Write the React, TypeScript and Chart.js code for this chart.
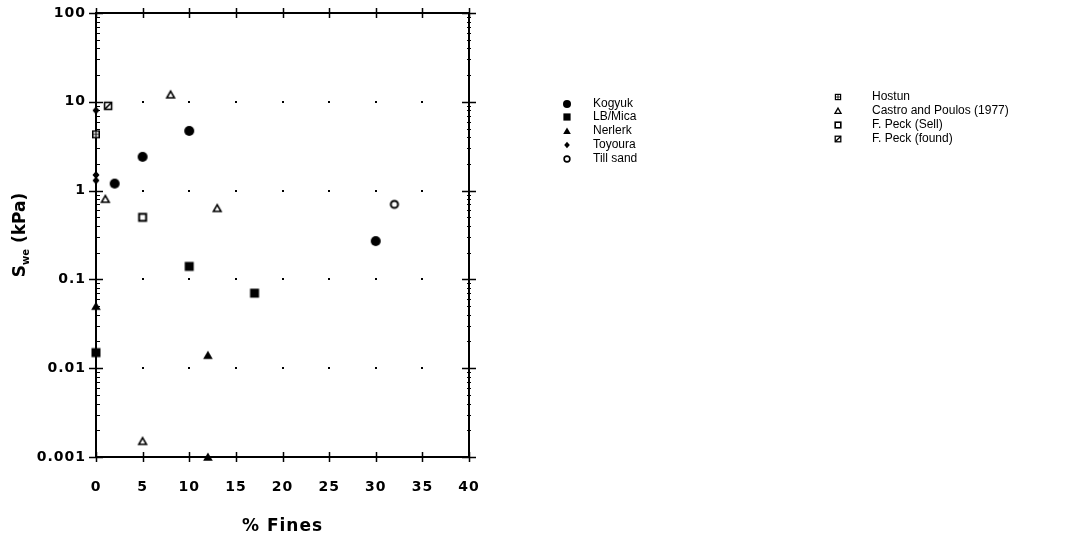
import { useEffect, useRef } from "react";
import { Chart, registerables } from "chart.js";

Chart.register(...registerables);

// ---------- data ----------
const xTickValues = [0, 5, 10, 15, 20, 25, 30, 35, 40];
const yTickValues = [0.001, 0.01, 0.1, 1, 10, 100];
const yTickLabels = ["0.001", "0.01", "0.1", "1", "10", "100"];

const kogyuk = [
  { x: 2, y: 1.2 },
  { x: 5, y: 2.4 },
  { x: 10, y: 4.7 },
  { x: 30, y: 0.27 },
];
const lbMica = [
  { x: 0, y: 0.015 },
  { x: 10, y: 0.14 },
  { x: 17, y: 0.07 },
];
const nerlerk = [
  { x: 0, y: 0.05 },
  { x: 12, y: 0.014 },
  { x: 12, y: 0.001 },
];
const toyoura = [
  { x: 0, y: 8 },
  { x: 0, y: 1.5 },
  { x: 0, y: 1.3 },
];
const tillSand = [{ x: 32, y: 0.7 }];
const hostun = [{ x: 0, y: 4.3 }];
const castroPoulos = [
  { x: 8, y: 12 },
  { x: 1, y: 0.8 },
  { x: 13, y: 0.63 },
  { x: 5, y: 0.0015 },
];
const peckSell = [{ x: 5, y: 0.5 }];
const peckFound = [{ x: 1.3, y: 9 }];

const seriesLabels = [
  "Kogyuk",
  "LB/Mica",
  "Nerlerk",
  "Toyoura",
  "Till sand",
  "Hostun",
  "Castro and Poulos (1977)",
  "F. Peck (Sell)",
  "F. Peck (found)",
];
const seriesKinds = [
  "circle",
  "square",
  "triangle",
  "diamond",
  "openCircle",
  "hostun",
  "openTriangle",
  "openSquare",
  "peckFound",
];
const seriesData = [kogyuk, lbMica, nerlerk, toyoura, tillSand, hostun, castroPoulos, peckSell, peckFound];

// ---------- marker drawing ----------
function makeMarker(kind: string, s = 1): HTMLCanvasElement {
  const size = 16;
  const c = document.createElement("canvas");
  c.width = size;
  c.height = size;
  const ctx = c.getContext("2d")!;
  ctx.translate(size / 2, size / 2);
  ctx.scale(s, s);
  ctx.fillStyle = "#000";
  ctx.strokeStyle = "#000";
  switch (kind) {
    case "circle":
      ctx.beginPath();
      ctx.arc(0, 0, 5, 0, Math.PI * 2);
      ctx.fill();
      break;
    case "square":
      ctx.fillRect(-4.5, -4.5, 9, 9);
      break;
    case "triangle":
      ctx.beginPath();
      ctx.moveTo(0, -4.5);
      ctx.lineTo(4.8, 3.8);
      ctx.lineTo(-4.8, 3.8);
      ctx.closePath();
      ctx.fill();
      break;
    case "diamond":
      ctx.beginPath();
      ctx.moveTo(0, -4);
      ctx.lineTo(3.5, 0);
      ctx.lineTo(0, 4);
      ctx.lineTo(-3.5, 0);
      ctx.closePath();
      ctx.fill();
      break;
    case "openCircle":
      ctx.lineWidth = 2;
      ctx.beginPath();
      ctx.arc(0, 0, 3.6, 0, Math.PI * 2);
      ctx.stroke();
      break;
    case "hostun":
      ctx.fillRect(-4, -4, 8, 8);
      ctx.fillStyle = "#fff";
      ctx.fillRect(-2.5, -2.5, 2, 2);
      ctx.fillRect(0.5, -2.5, 2, 2);
      ctx.fillRect(-2.5, 0.5, 2, 2);
      ctx.fillRect(0.5, 0.5, 2, 2);
      break;
    case "openTriangle":
      ctx.lineWidth = 1.6;
      ctx.beginPath();
      ctx.moveTo(0, -3.6);
      ctx.lineTo(3.8, 3);
      ctx.lineTo(-3.8, 3);
      ctx.closePath();
      ctx.stroke();
      break;
    case "openSquare":
      ctx.lineWidth = 2;
      ctx.strokeRect(-3.5, -3.5, 7, 7);
      break;
    case "peckFound":
      ctx.lineWidth = 1.6;
      ctx.strokeRect(-3.5, -3.5, 7, 7);
      ctx.beginPath();
      ctx.moveTo(-3.5, 3.5);
      ctx.lineTo(3.5, -3.5);
      ctx.stroke();
      break;
  }
  return c;
}

// legend layout: column x positions and row y positions
const legendCol1 = { markerX: 567, textX: 593, rows: [104, 117, 131, 145, 159] };
const legendCol2 = { markerX: 838, textX: 872, rows: [97, 111, 125, 139] };

const TICK_FONT = { family: '"DejaVu Sans", sans-serif', size: 14, weight: "bold" as const };

export default function App() {
  const ref = useRef<HTMLCanvasElement | null>(null);

  useEffect(() => {
    const canvas = ref.current;
    if (!canvas) return;

    const legendMarkers = seriesKinds.map((k) => makeMarker(k, 0.8));

    const framePlugin = {
      id: "frame",
      beforeDraw(chart: any) {
        chart.ctx.letterSpacing = "1px";
      },
      beforeDatasetsDraw(chart: any) {
        const { ctx, chartArea, scales } = chart;
        const xs = scales.x;
        const ys = scales.y;
        const { left, right, top, bottom } = chartArea;
        ctx.save();
        ctx.strokeStyle = "#000";
        ctx.fillStyle = "#000";
        // grid dots
        for (const xv of xTickValues) {
          if (xv === 0 || xv === 40) continue;
          for (const yv of yTickValues) {
            if (yv === 0.001 || yv === 100) continue;
            const px = xs.getPixelForValue(xv);
            const py = ys.getPixelForValue(yv);
            ctx.fillRect(Math.round(px) - 1, Math.round(py) - 1, 2, 2);
          }
        }
        // border box
        ctx.lineWidth = 2;
        ctx.strokeRect(left, top, right - left, bottom - top);
        // x major ticks (top and bottom)
        ctx.lineWidth = 1.5;
        ctx.beginPath();
        for (const xv of xTickValues) {
          const px = Math.round(xs.getPixelForValue(xv)) + 0.5;
          ctx.moveTo(px, bottom - 5);
          ctx.lineTo(px, bottom + 5);
          ctx.moveTo(px, top - 5);
          ctx.lineTo(px, top + 5);
        }
        // y major ticks (left and right)
        for (const yv of yTickValues) {
          const py = Math.round(ys.getPixelForValue(yv)) + 0.5;
          ctx.moveTo(left - 7, py);
          ctx.lineTo(left + 7, py);
          ctx.moveTo(right - 7, py);
          ctx.lineTo(right + 7, py);
        }
        ctx.stroke();
        // y minor ticks
        ctx.lineWidth = 1.2;
        ctx.beginPath();
        for (let d = 0; d < yTickValues.length - 1; d++) {
          for (let m = 2; m <= 9; m++) {
            const py = Math.round(ys.getPixelForValue(m * yTickValues[d])) + 0.5;
            ctx.moveTo(left - 1, py);
            ctx.lineTo(left + 4, py);
            ctx.moveTo(right - 2, py);
            ctx.lineTo(right + 2, py);
          }
        }
        ctx.stroke();
        ctx.restore();
      },
      afterDraw(chart: any) {
        const { ctx, chartArea } = chart;
        ctx.save();
        ctx.letterSpacing = "0px";
        // y axis title with subscript
        ctx.translate(21, (chartArea.top + chartArea.bottom) / 2);
        ctx.rotate(-Math.PI / 2);
        ctx.fillStyle = "#000";
        ctx.textBaseline = "middle";
        ctx.textAlign = "left";
        const big = 'bold 17px "DejaVu Sans", sans-serif';
        const small = 'bold 10px "DejaVu Sans", sans-serif';
        ctx.font = big;
        const wS = ctx.measureText("S").width;
        const wRest = ctx.measureText(" (kPa)").width;
        ctx.font = small;
        const wSub = ctx.measureText("we").width;
        const total = wS + wSub + wRest;
        let cx = -total / 2;
        ctx.font = big;
        ctx.fillText("S", cx, 0);
        cx += wS;
        ctx.font = small;
        ctx.fillText("we", cx, 5);
        cx += wSub;
        ctx.font = big;
        ctx.fillText(" (kPa)", cx, 0);
        ctx.restore();

        // legend
        ctx.save();
        ctx.letterSpacing = "0px";
        ctx.fillStyle = "#000";
        ctx.font = '12px "Liberation Sans", Arial, sans-serif';
        ctx.textBaseline = "middle";
        ctx.textAlign = "left";
        chart.data.datasets.forEach((ds: any, i: number) => {
          const col = i < 5 ? legendCol1 : legendCol2;
          const row = i < 5 ? i : i - 5;
          const y = col.rows[row];
          const mk = legendMarkers[i];
          ctx.drawImage(mk, col.markerX - mk.width / 2, y - mk.height / 2);
          ctx.fillText(ds.label, col.textX, y);
        });
        ctx.restore();
      },
    };

    const datasets = seriesData.map((data, i) => ({
      label: seriesLabels[i],
      data,
      pointStyle: makeMarker(seriesKinds[i]) as any,
      pointRadius: 5,
      showLine: false,
      clip: false as any,
    }));

    const chart = new Chart(canvas, {
      type: "scatter",
      data: { datasets },
      options: {
        animation: false,
        responsive: false,
        layout: { padding: { left: 0, right: 609, top: 13, bottom: 0 } },
        plugins: {
          legend: { display: false },
          tooltip: { enabled: false },
        },
        scales: {
          x: {
            type: "linear",
            min: 0,
            max: 40,
            afterBuildTicks: (s: any) => {
              s.ticks = xTickValues.map((v) => ({ value: v }));
            },
            afterFit: (s: any) => {
              s.height = 89;
              s.paddingLeft = 0;
              s.paddingRight = 0;
            },
            grid: { display: false },
            border: { display: false },
            ticks: {
              autoSkip: false,
              maxRotation: 0,
              color: "#000",
              font: TICK_FONT,
              padding: 14,
              callback: (v: any) => String(v),
            },
            title: {
              display: true,
              text: "% Fines",
              color: "#000",
              font: { family: '"DejaVu Sans", sans-serif', size: 17, weight: "bold" },
              padding: { top: 0, bottom: 9 },
            },
          },
          y: {
            type: "logarithmic",
            min: 0.001,
            max: 100,
            afterBuildTicks: (s: any) => {
              s.ticks = yTickValues.map((v) => ({ value: v }));
            },
            afterFit: (s: any) => {
              s.width = 96;
              s.paddingTop = 0;
              s.paddingBottom = 0;
            },
            grid: { display: false },
            border: { display: false },
            ticks: {
              autoSkip: false,
              color: "#000",
              font: TICK_FONT,
              padding: 2,
              callback: (v: any) => {
                const idx = yTickValues.indexOf(Number(v));
                return idx >= 0 ? yTickLabels[idx] : "";
              },
            },
          },
        },
      },
      plugins: [framePlugin],
    });

    return () => chart.destroy();
  }, []);

  return (
    <canvas
      ref={ref}
      width={1078}
      height={546}
      style={{ position: "absolute", left: 0, top: 0, display: "block", background: "#fff" }}
    />
  );
}
